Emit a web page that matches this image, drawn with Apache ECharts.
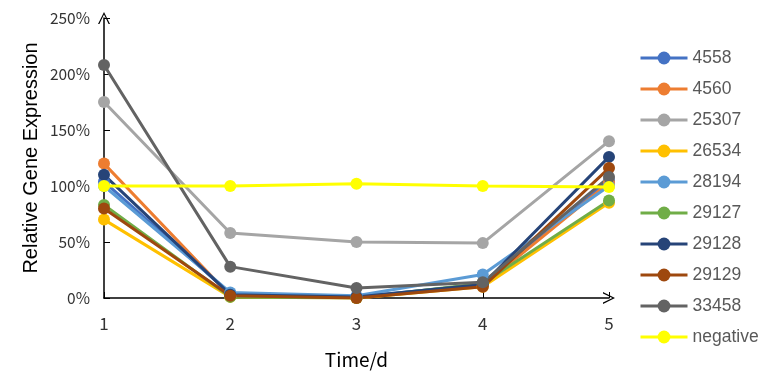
<!DOCTYPE html>
<html><head><meta charset="utf-8">
<script src="https://cdn.jsdelivr.net/npm/echarts@6/dist/echarts.min.js"></script>
<style>html,body{margin:0;padding:0;background:#fff}#c{width:770px;height:389px}</style>
</head><body><div id="c"></div>
<script>
var categories = ['1','2','3','4','5'];
var seriesNames = ['4558','4560','25307','26534','28194','29127','29128','29129','33458','negative'];
var s4558 = [104, 4, 1, 12, 105];
var s4560 = [120, 2, 0, 11, 103];
var s25307 = [175, 58, 50, 49, 140];
var s26534 = [70, 1, 0, 10, 85];
var s28194 = [100, 5, 2, 21, 100];
var s29127 = [83, 1, 0, 13, 87];
var s29128 = [110, 3, 1, 12, 126];
var s29129 = [80, 2, 0, 10, 116];
var s33458 = [208, 28, 9, 14, 108];
var sNegative = [100, 100, 102, 100, 99];
var yTicks = [0, 50, 100, 150, 200, 250];

var values = [s4558, s4560, s25307, s26534, s28194, s29127, s29128, s29129, s33458, sNegative];
var colors = ['#4472C4','#ED7D31','#A5A5A5','#FFC000','#5B9BD5','#70AD47','#264478','#9E480E','#636363','#FFFF00'];
var jp = '"Noto Sans CJK JP", "Noto Sans", sans-serif';
var arial = '"Liberation Sans", Arial, sans-serif';
var chevron = 'path://M0,12 L6,0 L12,12 L10.6,12 L6,2.6 L1.4,12 Z';

var chart = echarts.init(document.getElementById('c'), null, {renderer:'canvas'});
chart.setOption({
  animation: false,
  backgroundColor: '#fff',
  grid: {left: 104, right: 161, top: 18, bottom: 91, containLabel: false},
  legend: {
    orient: 'vertical', left: 639, top: 49, padding: 0,
    itemWidth: 47, itemHeight: 16, itemGap: 13,
    lineStyle: {width: 3},
    data: seriesNames,
    textStyle: {fontFamily: arial, fontSize: 17.5, lineHeight: 18, color: '#595959', padding: [0,0,0,0]}
  },
  xAxis: {
    type: 'category', data: categories, boundaryGap: false,
    name: 'Time/d', nameLocation: 'middle', nameGap: 52,
    nameTextStyle: {fontFamily: jp, fontSize: 19, color: '#000'},
    axisLine: {lineStyle: {color: '#000', width: 1.5}, symbol: ['none', chevron], symbolSize: [12, 16]},
    axisTick: {show: true, inside: true, length: 6, lineStyle: {color: '#000'}},
    axisLabel: {fontFamily: jp, fontSize: 17, color: '#333', margin: 17}
  },
  yAxis: {
    type: 'value', min: yTicks[0], max: yTicks[yTicks.length-1], interval: 50,
    name: 'Relative Gene Expression', nameLocation: 'middle', nameGap: 63,
    nameMoveOverlap: false,
    nameTextStyle: {fontFamily: arial, fontSize: 20, color: '#000'},
    axisLine: {show: true, lineStyle: {color: '#000', width: 1.5}, symbol: ['none', chevron], symbolSize: [12, 16]},
    axisTick: {show: true, inside: true, length: 6, lineStyle: {color: '#000'}},
    splitLine: {show: false},
    axisLabel: {fontFamily: jp, fontSize: 15.5, color: '#333', margin: 14, formatter: '{value}%'}
  },
  series: seriesNames.map(function(n, i){
    return {
      name: n, type: 'line', data: values[i],
      symbol: 'circle', symbolSize: 12,
      lineStyle: {width: 3, color: colors[i]},
      itemStyle: {color: colors[i]},
      z: n === 'negative' ? 10 : 2
    };
  })
});
</script></body></html>
